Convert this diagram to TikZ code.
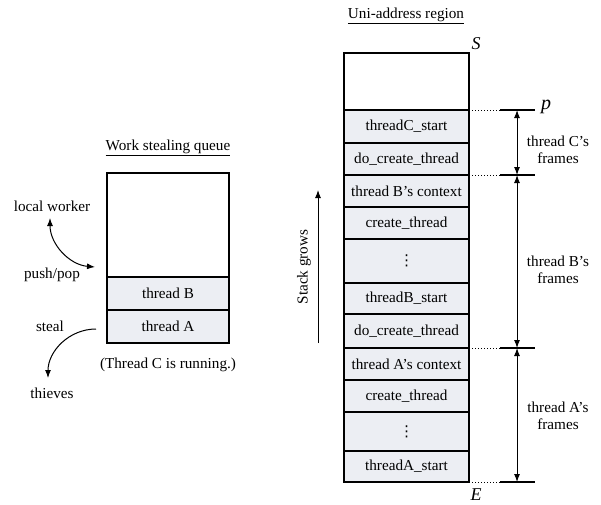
\documentclass[tikz,border=0pt]{standalone}
\usepackage{fontspec}
\setmainfont{Liberation Serif}
\newfontfamily\symfont{DejaVu Sans}
\usetikzlibrary{arrows.meta}
\definecolor{cellfill}{RGB}{236,238,243}
\begin{document}
\begin{tikzpicture}[x=1pt,y=1pt,
  font=\fontsize{15.2}{17}\selectfont,
  cell/.style={draw=black, line width=1.1pt, fill=cellfill, inner sep=0pt, outer sep=0pt, minimum width=125pt},
  qcell/.style={cell, minimum width=122pt},
  emptycell/.style={fill=white},
  dotscell/.style={cell, font=\symfont\fontsize{15}{15}\selectfont},
  tip/.style={-{Latex[length=8pt,width=6pt]}},
  dtip/.style={{Latex[length=8pt,width=6pt]}-{Latex[length=8pt,width=6pt]}},
  lbl/.style={inner sep=1pt, align=center}]
\useasboundingbox (0,0) rectangle (601,-504);

% ---------- Work stealing queue ----------
\node[lbl] (wsq) at (168,-148) {\underline{Work stealing queue}};
\node[qcell, emptycell, minimum height=104pt] (qe) at (168,-225) {};
\node[qcell, minimum height=33pt] (qb) at (168,-293.5) {thread B};
\node[qcell, minimum height=33pt] (qa) at (168,-326.5) {thread A};
\node[lbl] (running) at (168,-365) {(Thread C is running.)};

\node[lbl] (lw) at (52,-206) {local worker};
\node[lbl] (pp) at (52,-275) {push/pop};
\node[lbl] (steal) at (50,-326) {steal};
\node[lbl] (thieves) at (52,-393) {thieves};
\coordinate (lwA) at (50,-218);
\coordinate (lwB) at (95,-267);
\coordinate (stA) at (96,-329);
\coordinate (stB) at (48,-378);
\draw[line width=1pt, dtip] (lwA) to[out=-90, in=175] (lwB);
\draw[line width=1pt, tip] (stA) to[out=180, in=90] (stB);

% ---------- Uni-address region ----------
\node[lbl] (uar) at (406,-16) {\underline{Uni-address region}};
\node[cell, emptycell, minimum height=57pt] (top) at (406.5,-81.5) {};
\node[cell, minimum height=33pt] (c1) at (406.5,-126.5) {threadC\_start};
\node[cell, minimum height=32pt] (c2) at (406.5,-159) {do\_create\_thread};
\node[cell, minimum height=32pt] (b1) at (406.5,-191) {thread B’s context};
\node[cell, minimum height=32pt] (b2) at (406.5,-223) {create\_thread};
\node[dotscell, minimum height=44pt] (b3) at (406.5,-261) {⋮};
\node[cell, minimum height=31pt] (b4) at (406.5,-298.5) {threadB\_start};
\node[cell, minimum height=34pt] (b5) at (406.5,-331) {do\_create\_thread};
\node[cell, minimum height=32pt] (a1) at (406.5,-364) {thread A’s context};
\node[cell, minimum height=32pt] (a2) at (406.5,-396) {create\_thread};
\node[dotscell, minimum height=39pt] (a3) at (406.5,-431.5) {⋮};
\node[cell, minimum height=31pt] (a4) at (406.5,-466.5) {threadA\_start};

\node[lbl] (S) at (476,-44) {\fontsize{18}{18}\selectfont\textit{S}};
\node[lbl] (E) at (476,-495) {\fontsize{18}{18}\selectfont\textit{E}};
\node[lbl, anchor=west] (p) at (540,-107) {\fontsize{20}{20}\selectfont\textit{p}};

% boundary markers
\coordinate (m1d) at (500,-110); \coordinate (m1e) at (535,-110);
\coordinate (m2d) at (500,-175); \coordinate (m2e) at (535,-175);
\coordinate (m3d) at (500,-348); \coordinate (m3e) at (535,-348);
\coordinate (m4d) at (500,-482); \coordinate (m4e) at (535,-482);
\draw[line width=1pt, dotted] (c1.north east) -- (m1d);
\draw[line width=1pt, dotted] (c2.south east) -- (m2d);
\draw[line width=1pt, dotted] (b5.south east) -- (m3d);
\draw[line width=1pt, dotted] (a4.south east) -- (m4d);
\draw[line width=1.1pt] (m1d) -- (m1e);
\draw[line width=1.1pt] (m2d) -- (m2e);
\draw[line width=1.1pt] (m3d) -- (m3e);
\draw[line width=1.1pt] (m4d) -- (m4e);

\coordinate (v1) at (517,-110);
\coordinate (v2) at (517,-175);
\coordinate (v3) at (517,-348);
\coordinate (v4) at (517,-482);
\draw[line width=1pt, dtip] (v1) -- (v2);
\draw[line width=1pt, dtip] (v2) -- (v3);
\draw[line width=1pt, dtip] (v3) -- (v4);

\node[lbl] (fc) at (558,-150) {thread C’s\\frames};
\node[lbl] (fb) at (558,-270) {thread B’s\\frames};
\node[lbl] (fa) at (558,-416) {thread A’s\\frames};

% stack grows
\coordinate (sgA) at (318,-343);
\coordinate (sgB) at (318,-190);
\draw[line width=1pt, tip] (sgA) -- (sgB);
\node[lbl, rotate=90] (sg) at (304,-267) {Stack grows};
\end{tikzpicture}
\end{document}
